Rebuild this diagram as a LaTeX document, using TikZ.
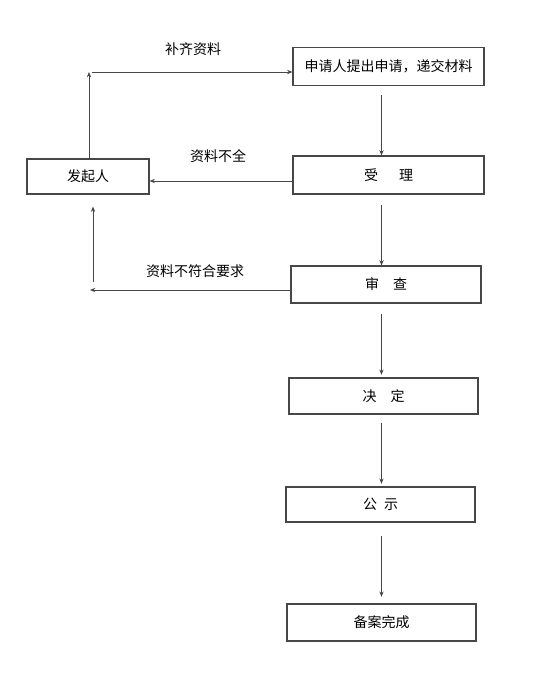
\documentclass[tikz,border=0pt]{standalone}
\usepackage{fontspec}
\newfontfamily\cjk{Noto Sans CJK SC}
\usetikzlibrary{arrows.meta}

\tikzset{
  stepbox/.style={draw=black!72, line width=0.8pt, font=\cjk\fontsize{10.5}{12}\selectfont, inner sep=0pt},
  flow/.style={draw=black!72, line width=0.7pt, -{Stealth[length=4pt,width=3.2pt]}},
  flowlabel/.style={font=\cjk\fontsize{10.5}{12}\selectfont, inner sep=0pt}
}

\begin{document}
\begin{tikzpicture}[x=0.75pt,y=0.75pt,yscale=-1,xscale=1]
        \useasboundingbox (0,0) rectangle (544,677);
        %Boxes
        \node [stepbox, minimum width=191*0.75pt, minimum height=38*0.75pt] (apply) at (388.5,66.5) {申请人提出申请，递交材料};
        \node [stepbox, minimum width=191*0.75pt, minimum height=38*0.75pt] (accept) at (388.5,175) {受\hspace{1.5em}理};
        \node [stepbox, minimum width=122*0.75pt, minimum height=35*0.75pt] (starter) at (88,176.5) {发起人};
        \node [stepbox, minimum width=190*0.75pt, minimum height=37*0.75pt] (review) at (386,284.5) {审\hspace{1em}查};
        \node [stepbox, minimum width=189*0.75pt, minimum height=36*0.75pt] (decide) at (383.5,396) {决\hspace{1em}定};
        \node [stepbox, minimum width=189*0.75pt, minimum height=35*0.75pt] (publicize) at (380.5,504.5) {公\hspace{0.5em}示};
        \node [stepbox, minimum width=189*0.75pt, minimum height=37*0.75pt] (record) at (381.5,622.5) {备案完成};

        %Turn points
        \coordinate (axis) at (381.5,0);
        \coordinate (topturn) at (89,72);
        \coordinate (backA) at (150,181);
        \coordinate (lowturn) at (90,290);
        \coordinate (upstart) at (93,282);

        %Main line
        \draw [flow, shorten <=7pt] (apply.south -| axis) -- (accept.north -| axis);
        \draw [flow, shorten <=8pt] (accept.south -| axis) -- (review.north -| axis);
        \draw [flow, shorten <=8pt, shorten >=2pt] (review.south -| axis) -- (decide.north -| axis);
        \draw [flow, shorten <=6pt, shorten >=2pt] (decide.south -| axis) -- (publicize.north -| axis);
        \draw [flow, shorten <=10pt, shorten >=5pt] (publicize.south -| axis) -- (record.north -| axis);

        %Back to starter
        \draw [flow] (starter.north -| topturn) -- (topturn);
        \draw [flow, shorten <=2pt] (topturn) -- (topturn -| apply.west);
        \draw [flow] (accept.west |- backA) -- (starter.east |- backA);
        \draw [flow] (review.west |- lowturn) -- (lowturn);
        \draw [flow, shorten >=9pt] (upstart) -- (starter.south -| upstart);

        %Labels
        \node [flowlabel] (lblA) at (193,49) {补齐资料};
        \node [flowlabel] (lblB) at (218,156) {资料不全};
        \node [flowlabel] (lblC) at (195,271) {资料不符合要求};
\end{tikzpicture}
\end{document}
